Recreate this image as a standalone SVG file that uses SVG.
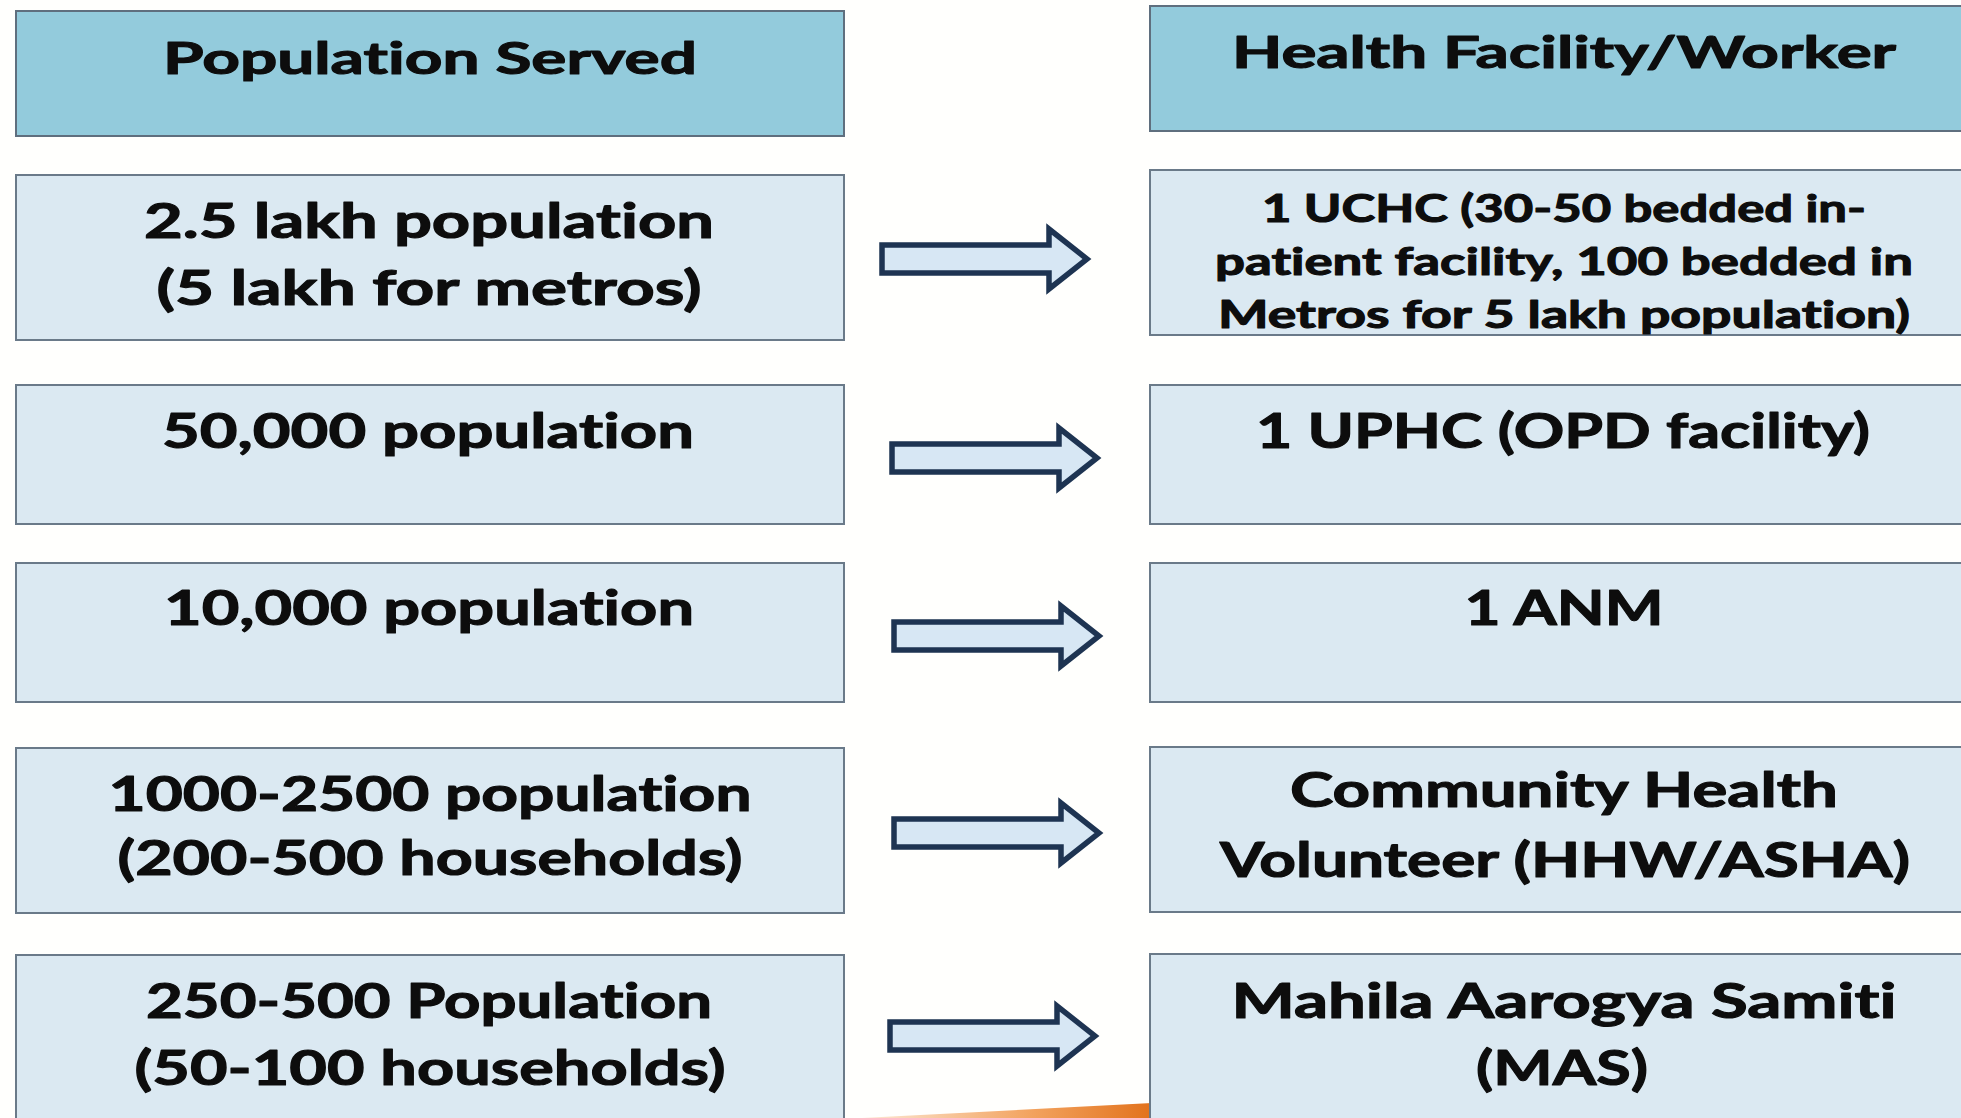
<svg xmlns="http://www.w3.org/2000/svg" width="1961" height="1118" viewBox="0 0 1961 1118">
  <style>
    .hdr { fill: #93cbdc; stroke: #5f6f7e; stroke-width: 2; }
    .box { fill: #dbe9f2; stroke: #6a7a89; stroke-width: 2; }
    .t { font-family: Lato, "Open Sans", "Liberation Sans", sans-serif; font-weight: 700; fill: #0d0d0d; text-anchor: middle;
         stroke: #0d0d0d; stroke-width: 1.1; stroke-linejoin: round;
         font-variant-ligatures: none; font-feature-settings: "liga" 0, "dlig" 0; }
    .th { font-size: 44px; }
    .tb { font-size: 48px; }
    .ts { font-size: 38px; }
    .arrow { fill: #d7e7f4; stroke: #1e3452; stroke-width: 5.5; stroke-linejoin: miter; }
  </style>
  <defs>
    <!-- block arrow, origin at the left end of the shaft centre line -->
    <path id="blockArrow" d="M0,-14 H167 V-30 L205,0 L167,30 V14 H0 Z"/>
    <linearGradient id="orangeWedge" x1="0" y1="0" x2="1" y2="0">
      <stop offset="0" stop-color="#fde9d6"/>
      <stop offset="0.6" stop-color="#f2a15c"/>
      <stop offset="1" stop-color="#e2721c"/>
    </linearGradient>
  </defs>

  <rect width="1961" height="1118" fill="#fffffd"/>

  <!-- decorative wedge peeking out behind the last row -->
  <polygon points="862,1118 1152,1103 1152,1118" fill="url(#orangeWedge)"/>

  <!-- column headers -->
  <g id="hdr-population">
    <rect class="hdr" x="16" y="11" width="828" height="125"/>
    <text class="t th" x="430" y="74" textLength="534" lengthAdjust="spacingAndGlyphs">Population Served</text>
  </g>
  <g id="hdr-facility">
    <rect class="hdr" x="1150" y="6" width="830" height="125"/>
    <text class="t th" x="1564" y="68" textLength="664" lengthAdjust="spacingAndGlyphs">Health Facility/Worker</text>
  </g>

  <!-- row 1 -->
  <g id="pop-250k">
    <rect class="box" x="16" y="175" width="828" height="165"/>
    <text class="t tb" x="429" y="238" textLength="570" lengthAdjust="spacingAndGlyphs">2.5 lakh population</text>
    <text class="t tb" x="429" y="305" textLength="545" lengthAdjust="spacingAndGlyphs">(5 lakh for metros)</text>
  </g>
  <g id="fac-uchc">
    <rect class="box" x="1150" y="170" width="830" height="165"/>
    <text class="t ts" x="1564" y="222" textLength="604" lengthAdjust="spacingAndGlyphs">1 UCHC (30-50 bedded in-</text>
    <text class="t ts" x="1564" y="275" textLength="698" lengthAdjust="spacingAndGlyphs">patient facility, 100 bedded in</text>
    <text class="t ts" x="1564" y="328" textLength="692" lengthAdjust="spacingAndGlyphs">Metros for 5 lakh population)</text>
  </g>

  <!-- row 2 -->
  <g id="pop-50k">
    <rect class="box" x="16" y="385" width="828" height="139"/>
    <text class="t tb" x="428" y="448" textLength="532" lengthAdjust="spacingAndGlyphs">50,000 population</text>
  </g>
  <g id="fac-uphc">
    <rect class="box" x="1150" y="385" width="830" height="139"/>
    <text class="t tb" x="1563" y="448" textLength="614" lengthAdjust="spacingAndGlyphs">1 UPHC (OPD facility)</text>
  </g>

  <!-- row 3 -->
  <g id="pop-10k">
    <rect class="box" x="16" y="563" width="828" height="139"/>
    <text class="t tb" x="429" y="625" textLength="530" lengthAdjust="spacingAndGlyphs">10,000 population</text>
  </g>
  <g id="fac-anm">
    <rect class="box" x="1150" y="563" width="830" height="139"/>
    <text class="t tb" x="1564" y="625" textLength="199" lengthAdjust="spacingAndGlyphs">1 ANM</text>
  </g>

  <!-- row 4 -->
  <g id="pop-1000">
    <rect class="box" x="16" y="748" width="828" height="165"/>
    <text class="t tb" x="430" y="811" textLength="643" lengthAdjust="spacingAndGlyphs">1000-2500 population</text>
    <text class="t tb" x="430" y="875" textLength="625" lengthAdjust="spacingAndGlyphs">(200-500 households)</text>
  </g>
  <g id="fac-asha">
    <rect class="box" x="1150" y="747" width="830" height="165"/>
    <text class="t tb" x="1564" y="807" textLength="548" lengthAdjust="spacingAndGlyphs">Community Health</text>
    <text class="t tb" x="1565" y="877" textLength="690" lengthAdjust="spacingAndGlyphs">Volunteer (HHW/ASHA)</text>
  </g>

  <!-- row 5 -->
  <g id="pop-250">
    <rect class="box" x="16" y="955" width="828" height="175"/>
    <text class="t tb" x="429" y="1018" textLength="566" lengthAdjust="spacingAndGlyphs">250-500 Population</text>
    <text class="t tb" x="430" y="1085" textLength="591" lengthAdjust="spacingAndGlyphs">(50-100 households)</text>
  </g>
  <g id="fac-mas">
    <rect class="box" x="1150" y="954" width="830" height="176"/>
    <text class="t tb" x="1564" y="1018" textLength="665" lengthAdjust="spacingAndGlyphs">Mahila Aarogya Samiti</text>
    <text class="t tb" x="1562" y="1085" textLength="172" lengthAdjust="spacingAndGlyphs">(MAS)</text>
  </g>

  <!-- connectors -->
  <g id="connectors">
    <use href="#blockArrow" class="arrow" transform="translate(882,259)"/>
    <use href="#blockArrow" class="arrow" transform="translate(892,458)"/>
    <use href="#blockArrow" class="arrow" transform="translate(894,636)"/>
    <use href="#blockArrow" class="arrow" transform="translate(894,833)"/>
    <use href="#blockArrow" class="arrow" transform="translate(890,1036)"/>
  </g>
</svg>
